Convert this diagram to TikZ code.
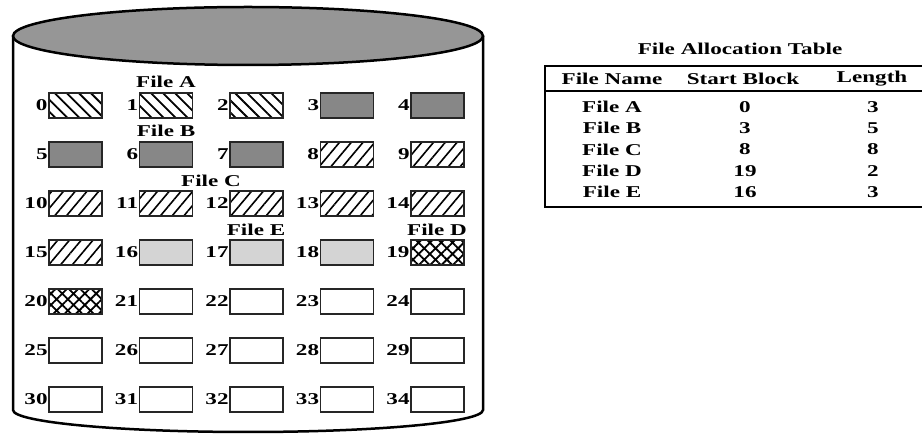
\documentclass[tikz,border=0pt]{standalone}
\usepackage{fontspec}
\setmainfont{Liberation Serif}[FakeStretch=1.4]
\usepackage{tikz}
\usetikzlibrary{positioning, patterns.meta}

\definecolor{diskgray}{RGB}{150,150,150}
\definecolor{darkblk}{RGB}{135,135,135}
\definecolor{lightblk}{RGB}{212,212,212}

\tikzset{
  blk/.style={draw=black!85, line width=1.5pt, minimum width=53pt, minimum height=25pt, inner sep=0pt},
  num/.style={font=\fontsize{16.5}{18}\selectfont\bfseries, inner sep=0.5pt},
  lbl/.style={font=\fontsize{16.5}{18}\selectfont\bfseries, inner sep=0pt},
  fileA/.style={pattern={Lines[angle=-45, distance=8.5pt, line width=1.8pt]}},
  fileB/.style={fill=darkblk},
  fileC/.style={pattern={Lines[angle=50, distance=9pt, line width=1.6pt]}},
  fileD/.style={pattern={Hatch[angle=45, distance=8pt, line width=1.8pt]}},
  fileE/.style={fill=lightblk},
  free/.style={fill=white}
}

\begin{document}
\begin{tikzpicture}[x=1pt, y=-1pt]
\useasboundingbox (0,0) rectangle (922,435);

% disk body
\draw[line width=2.5pt] (13,36) -- (13,410)
  arc[start angle=180, end angle=0, x radius=235, y radius=22] -- (483,36);
\draw[line width=2.5pt, fill=diskgray] (248,36) ellipse[x radius=235, y radius=29];

% blocks
\foreach \lo/\hi/\s in {0/2/fileA, 3/7/fileB, 8/15/fileC, 16/18/fileE, 19/20/fileD, 21/34/free} {
  \foreach \n in {\lo,...,\hi} {
    \pgfmathtruncatemacro{\c}{mod(\n,5)}
    \pgfmathtruncatemacro{\r}{int(\n/5)}
    \node[blk, \s] (B\n) at ({75.5+90.5*\c}, {105.5+49*\r}) {};
    \node[num, left=0pt of B\n] (N\n) {\n};
  }
}

% file names over the blocks
\node[lbl] (LA) at (166,82) {File A};
\node[lbl] (LB) at (166,131) {File B};
\node[lbl] (LC) at (211,181) {File C};
\node[lbl] (LE) at (256,230) {File E};
\node[lbl] (LD) at (437,230) {File D};

% file allocation table
\node[lbl] (title) at (740,49) {File Allocation Table};
\draw[line width=2pt] (545,66) rectangle (930,207);
\draw[line width=2.5pt] (545,91) -- (930,91);
\node[lbl] (hName) at (612,79) {File Name};
\node[lbl] (hStart) at (743,79) {Start Block};
\node[lbl] (hLen) at (872,79) {Length};
\foreach \f/\st/\len [count=\k from 0] in {A/0/3, B/3/5, C/8/8, D/19/2, E/16/3} {
  \node[lbl] (F\f) at (612,{107+21.25*\k}) {File \f};
  \node[lbl] (S\f) at (745,{107+21.25*\k}) {\st};
  \node[lbl] (L\f) at (873,{107+21.25*\k}) {\len};
}
\end{tikzpicture}
\end{document}
